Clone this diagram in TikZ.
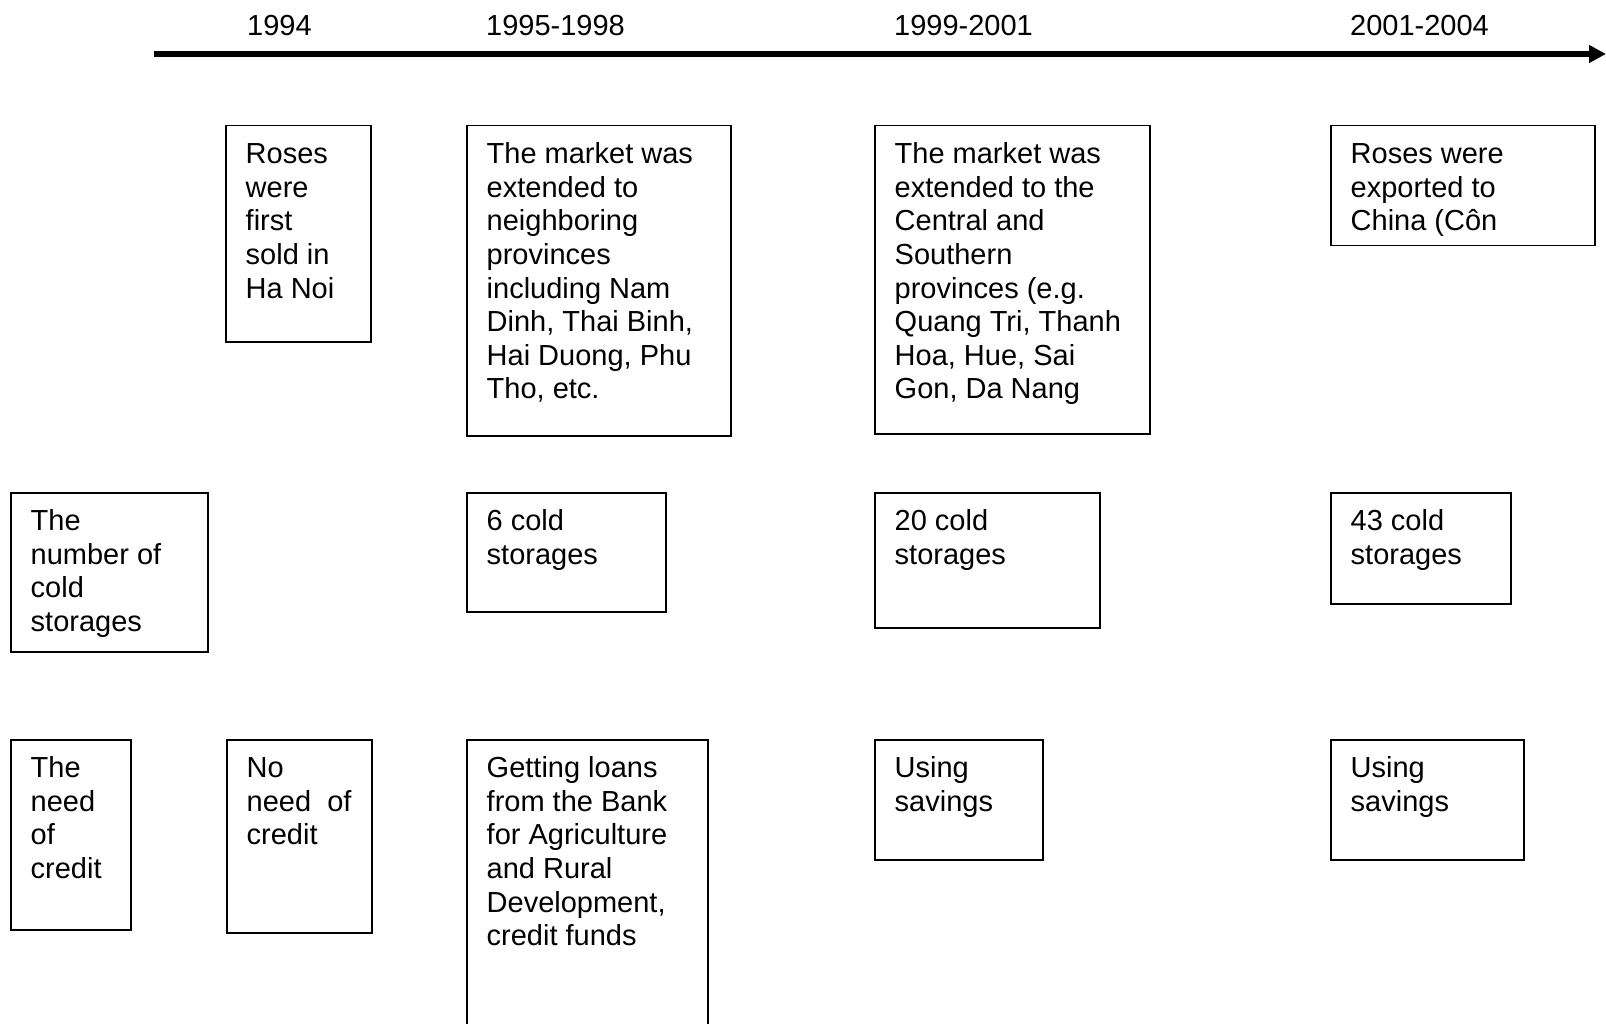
\documentclass[tikz,border=0pt]{standalone}
\usepackage{fontspec}
\setmainfont{Liberation Sans}
\usetikzlibrary{arrows.meta,calc}
\tikzset{
  box/.style={draw=black, line width=1.5pt, fill=none, inner sep=0pt, anchor=north west},
  txt/.style={anchor=north west, inner sep=0pt, align=left, font=\fontsize{29}{33.6}\selectfont},
  yearlbl/.style={anchor=base west, inner sep=0pt, font=\fontsize{29}{33.6}\selectfont},
  timeline/.style={line width=5.5pt, -{Triangle[length=17pt,width=17pt]}}
}
\newcommand{\mkbox}[6]{% name, x1, y1, x2, y2, text
  \node[box, minimum width=#4pt-#2pt, minimum height=#5pt-#3pt] (#1) at (#2,#3) {};
  \node[txt] (#1t) at ($(#1.north west)+(20.5,15)$) {\strut #6};
}
\begin{document}
\begin{tikzpicture}[x=1pt,y=-1pt]
\useasboundingbox (0,0) rectangle (1606,1024);
\clip (0,0) rectangle (1606,1024);
% timeline
\coordinate (tlA) at (154,54);
\coordinate (tlB) at (1606,54);
\draw[timeline] (tlA) -- (tlB);
\node[yearlbl] (y1) at (247,36) {1994};
\node[yearlbl] (y2) at (486,36) {1995-1998};
\node[yearlbl] (y3) at (894,36) {1999-2001};
\node[yearlbl] (y4) at (1350,36) {2001-2004};
% row 1
\mkbox{ra}{225}{125}{370}{341}{Roses\\were\\first\\sold in\\Ha Noi}
\mkbox{rb}{466}{125}{730}{435}{The market was\\extended to\\neighboring\\provinces\\including Nam\\Dinh, Thai Binh,\\Hai Duong, Phu\\Tho, etc.}
\mkbox{rc}{874}{125}{1149}{433}{The market was\\extended to the\\Central and\\Southern\\provinces (e.g.\\Quang Tri, Thanh\\Hoa, Hue, Sai\\Gon, Da Nang}
\mkbox{rd}{1330}{125}{1594}{245}{Roses were\\exported to\\China (Côn}
% row 2
\mkbox{sl}{10}{492}{207}{651}{The\\number of\\cold\\storages}
\mkbox{sb}{466}{492}{665}{611}{6 cold\\storages}
\mkbox{sc}{874}{492}{1099}{627}{20 cold\\storages}
\mkbox{sd}{1330}{492}{1510}{603}{43 cold\\storages}
% row 3
\mkbox{cl}{10}{739}{130}{929}{The\\need\\of\\credit}
\mkbox{ca}{226}{739}{371}{932}{No\\need\ \ of\\credit}
\mkbox{cb}{466}{739}{707}{1040}{Getting loans\\from the Bank\\for Agriculture\\and Rural\\Development,\\credit funds}
\mkbox{cc}{874}{739}{1042}{859}{Using\\savings}
\mkbox{cd}{1330}{739}{1523}{859}{Using\\savings}
\end{tikzpicture}
\end{document}
